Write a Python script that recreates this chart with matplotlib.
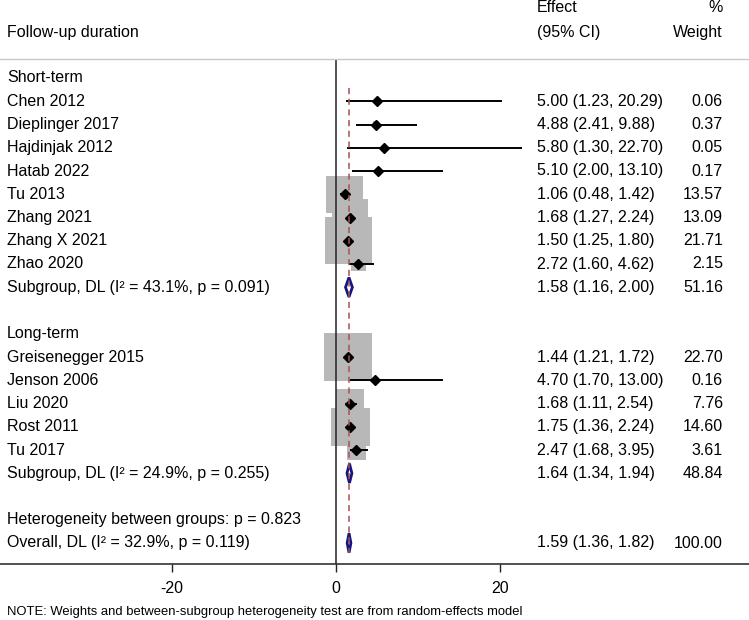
import matplotlib
matplotlib.use("Agg")
import matplotlib.pyplot as plt
import matplotlib.transforms as mtransforms
from matplotlib.patches import Polygon, Rectangle

plt.rcParams['font.family'] = ['Liberation Sans', 'DejaVu Sans']

# ---------------- data ----------------
short_names = ["Chen 2012", "Dieplinger 2017", "Hajdinjak 2012", "Hatab 2022",
               "Tu 2013", "Zhang 2021", "Zhang X 2021", "Zhao 2020"]
short_est = [5.00, 4.88, 5.80, 5.10, 1.06, 1.68, 1.50, 2.72]
short_lo = [1.23, 2.41, 1.30, 2.00, 0.48, 1.27, 1.25, 1.60]
short_hi = [20.29, 9.88, 22.70, 13.10, 1.42, 2.24, 1.80, 4.62]
short_w = [0.06, 0.37, 0.05, 0.17, 13.57, 13.09, 21.71, 2.15]
short_sub = (1.58, 1.16, 2.00, 51.16)
short_sub_label = "Subgroup, DL (I² = 43.1%, p = 0.091)"

long_names = ["Greisenegger 2015", "Jenson 2006", "Liu 2020", "Rost 2011", "Tu 2017"]
long_est = [1.44, 4.70, 1.68, 1.75, 2.47]
long_lo = [1.21, 1.70, 1.11, 1.36, 1.68]
long_hi = [1.72, 13.00, 2.54, 2.24, 3.95]
long_w = [22.70, 0.16, 7.76, 14.60, 3.61]
long_sub = (1.64, 1.34, 1.94, 48.84)
long_sub_label = "Subgroup, DL (I² = 24.9%, p = 0.255)"

overall = (1.59, 1.36, 1.82, 100.00)
overall_label = "Overall, DL (I² = 32.9%, p = 0.119)"
het_label = "Heterogeneity between groups: p = 0.823"
xticks = [-20, 0, 20]
note = "NOTE: Weights and between-subgroup heterogeneity test are from random-effects model"

# ---------------- layout ----------------
W, H, DPI = 749, 620, 100
fig = plt.figure(figsize=(W / DPI, H / DPI), dpi=DPI)
top_px, bot_px = 59, 564
row0_px, row_px = 78, 23.25
x0_px, unit_px = 336, 8.2

ax = fig.add_axes([0, (H - bot_px) / H, 1, (bot_px - top_px) / H])
ax.set_xlim(-x0_px / unit_px, (W - x0_px) / unit_px)
ax.set_ylim((bot_px - row0_px) / row_px, (top_px - row0_px) / row_px)

for s in ("left", "right"):
    ax.spines[s].set_visible(False)
ax.spines["top"].set_color("#c8c8c8")
ax.spines["top"].set_linewidth(1.0)
ax.spines["bottom"].set_color("#222222")
ax.spines["bottom"].set_linewidth(1.1)
ax.set_yticks([])
ax.set_xticks(xticks)
ax.set_xticklabels([str(t) for t in xticks])
ax.tick_params(axis="x", length=6, width=1.0, pad=6, labelsize=11.5, color="#222222")

trans = mtransforms.blended_transform_factory(fig.transFigure, ax.transData)
FS = 11.5
lab_x = 7 / W
eff_x = 537 / W
wt_x = 723 / W

box_k = 48 / (22.70 ** 0.5)  # px side per sqrt(weight)
navy = "#16167f"
red = "#a8505a"


def study(row, name, e, lo, hi, w):
    side = box_k * w ** 0.5
    ax.add_patch(Rectangle((e - side / unit_px / 2, row - side / row_px / 2),
                           side / unit_px, side / row_px,
                           facecolor="#b8b8b8", edgecolor="none", zorder=1))
    ax.plot([lo, hi], [row, row], color="black", lw=1.4, zorder=3, solid_capstyle="butt")
    ax.plot([e], [row], marker="D", color="black", markersize=5, zorder=4)
    ax.text(lab_x, row, name, transform=trans, ha="left", va="center", fontsize=FS)
    ax.text(eff_x, row, f"{e:.2f} ({lo:.2f}, {hi:.2f})", transform=trans,
            ha="left", va="center", fontsize=FS)
    ax.text(wt_x, row, f"{w:.2f}", transform=trans, ha="right", va="center", fontsize=FS)


def diamond(row, label, vals):
    e, lo, hi, w = vals
    h = 0.42
    ax.add_patch(Polygon([(lo, row), (e, row - h), (hi, row), (e, row + h)],
                         closed=True, facecolor="white", edgecolor=navy,
                         lw=2.0, zorder=5))
    ax.text(lab_x, row, label, transform=trans, ha="left", va="center", fontsize=FS)
    ax.text(eff_x, row, f"{e:.2f} ({lo:.2f}, {hi:.2f})", transform=trans,
            ha="left", va="center", fontsize=FS)
    ax.text(wt_x, row, f"{w:.2f}", transform=trans, ha="right", va="center", fontsize=FS)


row = 0
ax.text(lab_x, row, "Short-term", transform=trans, ha="left", va="center", fontsize=FS)
for i in range(len(short_names)):
    row += 1
    study(row, short_names[i], short_est[i], short_lo[i], short_hi[i], short_w[i])
row += 1
diamond(row, short_sub_label, short_sub)
row += 2
ax.text(lab_x, row, "Long-term", transform=trans, ha="left", va="center", fontsize=FS)
for i in range(len(long_names)):
    row += 1
    study(row, long_names[i], long_est[i], long_lo[i], long_hi[i], long_w[i])
row += 1
diamond(row, long_sub_label, long_sub)
row += 2
ax.text(lab_x, row, het_label, transform=trans, ha="left", va="center", fontsize=FS)
row += 1
diamond(row, overall_label, overall)
last_row = row

# reference lines
ax.axvline(0, color="#222222", lw=1.1, zorder=2)
ax.plot([overall[0], overall[0]], [0.45, last_row + 0.45], color=red, lw=1.1,
        ls=(0, (4, 3)), zorder=6)

# headers
ax.text(lab_x, (32 - row0_px) / row_px, "Follow-up duration", transform=trans,
        ha="left", va="center", fontsize=FS)
ax.text(eff_x, (8 - row0_px) / row_px, "Effect", transform=trans,
        ha="left", va="center", fontsize=FS)
ax.text(eff_x, (32 - row0_px) / row_px, "(95% CI)", transform=trans,
        ha="left", va="center", fontsize=FS)
ax.text(wt_x, (8 - row0_px) / row_px, "%", transform=trans,
        ha="right", va="center", fontsize=FS)
ax.text(wt_x, (32 - row0_px) / row_px, "Weight", transform=trans,
        ha="right", va="center", fontsize=FS)

fig.text(lab_x, (H - 612) / H, note, ha="left", va="center", fontsize=9.4)

fig.savefig("out.png", dpi=DPI)
